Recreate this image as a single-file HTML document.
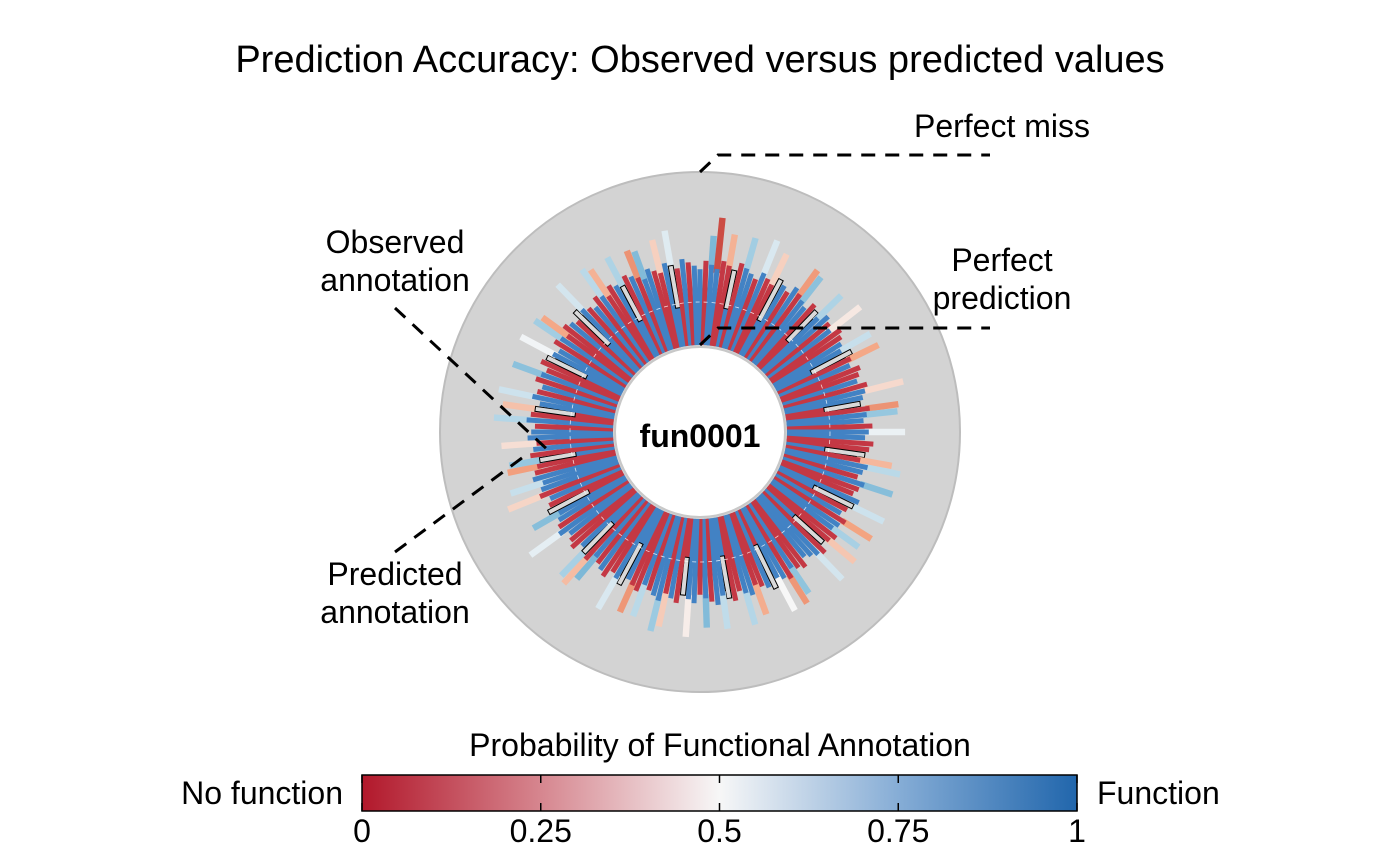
<!DOCTYPE html>
<html><head><meta charset="utf-8">
<style>
html,body{margin:0;padding:0;background:#fff;}
svg{display:block;font-family:"Liberation Sans",Arial,sans-serif;}
</style></head>
<body>
<svg id="chart" width="1400" height="865" viewBox="0 0 1400 865">
<defs>
<linearGradient id="cbgrad" x1="0" x2="1" y1="0" y2="0">
<stop offset="0" stop-color="#b2182b"/>
<stop offset="0.25" stop-color="#d6868f"/>
<stop offset="0.5" stop-color="#f7f7f7"/>
<stop offset="0.75" stop-color="#86add6"/>
<stop offset="1" stop-color="#2166ac"/>
</linearGradient>
</defs>
<text x="700" y="72" text-anchor="middle" font-size="38">Prediction Accuracy: Observed versus predicted values</text>
<circle cx="700" cy="432" r="260" fill="#d3d3d3" stroke="#bdbdbd" stroke-width="2"/>
<g id="bars"></g>
<circle cx="700" cy="432" r="130" fill="none" stroke="#fff" stroke-width="0.8" stroke-dasharray="4,4" opacity="0.8"/>
<circle cx="700" cy="432" r="85" fill="#fff" stroke="#c8c8c8" stroke-width="2"/>
<text x="700" y="447" text-anchor="middle" font-size="32" font-weight="bold">fun0001</text>

<polyline points="700,172 718,155 990,155" fill="none" stroke="#000" stroke-width="3" stroke-dasharray="14,10"/>
<text x="1002" y="137" text-anchor="middle" font-size="32">Perfect miss</text>
<polyline points="700,345 718,328 990,328" fill="none" stroke="#000" stroke-width="3" stroke-dasharray="14,10"/>
<text x="1002" y="271" text-anchor="middle" font-size="32">Perfect</text>
<text x="1002" y="309" text-anchor="middle" font-size="32">prediction</text>
<line x1="395" y1="308" x2="550" y2="452" stroke="#000" stroke-width="3" stroke-dasharray="14,10"/>
<text x="395" y="253" text-anchor="middle" font-size="32">Observed</text>
<text x="395" y="291" text-anchor="middle" font-size="32">annotation</text>
<line x1="395" y1="552" x2="530" y2="452" stroke="#000" stroke-width="3" stroke-dasharray="14,10"/>
<text x="395" y="585" text-anchor="middle" font-size="32">Predicted</text>
<text x="395" y="623" text-anchor="middle" font-size="32">annotation</text>

<text x="720" y="756" text-anchor="middle" font-size="32">Probability of Functional Annotation</text>
<rect x="362" y="775" width="715" height="36" fill="url(#cbgrad)" stroke="#000" stroke-width="1.5"/>
<text x="343" y="804" text-anchor="end" font-size="32">No function</text>
<text x="1097" y="804" font-size="32">Function</text>
<g id="cbticks"></g>
</svg>
<script>
const observed = [1,0,1,1,0,0,1,0,1,1,0,1,0,0,1,1,0,1,0,1,1,0,0,1,1,0,1,0,0,1,1,1,0,1,0,0,1,0,1,1,0,0,1,1,0,1,1,0,0,1,0,1,1,0,1,0,0,1,1,0,1,0,1,1,0,0,1,0,1,1,1,0,0,1,0,1,1,0,1,0,0,1,1,0,0,1,1,1,0,1,0,1,1,0,0,1,0,1,1,0,1,0,0,1,1,1,0,0,1,0,1,0,1,1,0,0,1,1,0,1,1,0,0,1,0,1,1,1,0,0,1,0,1,0,1,1,0,1,0,0,1,1,0,1,0,1,0,0,1,1,1,0,1,0,0,1,0,1,1,0,1,0,1,0,0,1,1,0,1,0,1,1,0,0,1,1,0,1,0,1];
const predicted = [0.82,0.21,0.71,0.12,0.15,0.36,0.88,0.09,0.64,0.91,0.18,0.55,0.11,0.42,0.86,0.77,0.08,0.93,0.31,0.68,0.84,0.14,0.26,0.62,0.9,0.05,0.47,0.19,0.12,0.79,0.58,0.92,0.34,0.73,0.1,0.22,0.87,0.15,0.44,0.81,0.07,0.29,0.66,0.89,0.16,0.52,0.83,0.2,0.11,0.74,0.37,0.6,0.94,0.13,0.69,0.24,0.06,0.85,0.57,0.17,0.78,0.33,0.9,0.63,0.12,0.4,0.8,0.09,0.56,0.88,0.72,0.23,0.14,0.67,0.3,0.92,0.5,0.18,0.83,0.07,0.35,0.76,0.61,0.1,0.27,0.86,0.59,0.9,0.13,0.7,0.21,0.82,0.48,0.16,0.08,0.78,0.41,0.65,0.93,0.19,0.6,0.12,0.3,0.89,0.74,0.55,0.09,0.25,0.84,0.15,0.71,0.38,0.63,0.91,0.2,0.06,0.8,0.53,0.17,0.87,0.69,0.28,0.11,0.75,0.43,0.9,0.58,0.82,0.14,0.32,0.66,0.1,0.86,0.45,0.72,0.94,0.22,0.61,0.13,0.39,0.85,0.57,0.08,0.77,0.26,0.68,0.18,0.12,0.88,0.51,0.83,0.2,0.64,0.34,0.07,0.79,0.15,0.92,0.56,0.24,0.73,0.11,0.6,0.36,0.09,0.87,0.62,0.19,0.81,0.29,0.7,0.9,0.13,0.42,0.84,0.54,0.16,0.76,0.27,0.93];
const missing = [6,14,22,31,40,49,58,66,77,85,93,104,112,121,130,139,148,157,166,175];
const cbTickValues = [0,0.25,0.5,0.75,1];
const cbTickLabels = ["0","0.25","0.5","0.75","1"];

const NS="http://www.w3.org/2000/svg";
const cx=700, cy=432, r0=87, rMid=130, rObs=175, rMax=260;
const pal=[[178,24,43],[214,96,77],[244,165,130],[247,247,247],[146,197,222],[67,147,195],[33,102,172]];
function colorOf(p){
  const t=Math.max(0,Math.min(1,p))*(pal.length-1);
  const i=Math.min(pal.length-2,Math.floor(t)), f=t-i;
  const c=pal[i].map((v,k)=>Math.round(v+(pal[i+1][k]-v)*f));
  return `rgb(${c[0]},${c[1]},${c[2]})`;
}
function rad(r,a){return [cx+r*Math.sin(a), cy-r*Math.cos(a)];}
const g=document.getElementById('bars');
const N=observed.length, step=2*Math.PI/N;
function wedge(a,ra,rb,fill,stroke,name,halfW){
  const px=Math.cos(a)*halfW, py=Math.sin(a)*halfW;
  const A=rad(ra,a), B=rad(rb,a);
  const pts=[[A[0]-px,A[1]-py],[B[0]-px,B[1]-py],[B[0]+px,B[1]+py],[A[0]+px,A[1]+py]];
  const el=document.createElementNS(NS,'polygon');
  el.setAttribute('points',pts.map(p=>p[0].toFixed(1)+','+p[1].toFixed(1)).join(' '));
  el.setAttribute('fill',fill);
  if(stroke){el.setAttribute('stroke',stroke);el.setAttribute('stroke-width','1');}
  
  
  g.appendChild(el);
}
const RED='rgb(196,56,68)', BLUE='rgb(66,130,196)';
for(let i=0;i<N;i++){
  const a=i*step, o=observed[i], p=predicted[i];
  const err=Math.abs(p-o);
  const len=(rObs-r0)*(0.86+0.14*((i*37)%10)/10);
  const base=o? BLUE:RED;
  if(err>0.28){
    const extra=18+38*err;
    wedge(a,r0+len-4,r0+len+extra,colorOf(p),null,'predicted-bar',3.2);
  }
  if(missing.includes(i)){
    wedge(a,r0,rMid-4,p>0.5?BLUE:RED,null,'observed-bar',2.5);
    wedge(a,rMid-4,r0+len,'#d9d9d9','#000','missing-observation-bar',2.5);
  } else {
    wedge(a,r0,r0+len,base,null,'observed-bar',2.5);
  }
}
const tg=document.getElementById('cbticks');
cbTickValues.forEach((v,k)=>{
  const x=362+715*v;
  [[775,783],[803,811]].forEach(([y1,y2])=>{
    const l=document.createElementNS(NS,'line');
    l.setAttribute('x1',x);l.setAttribute('x2',x);l.setAttribute('y1',y1);l.setAttribute('y2',y2);
    l.setAttribute('stroke','#000');l.setAttribute('stroke-width','1.5');
    
    
    tg.appendChild(l);
  });
  const t=document.createElementNS(NS,'text');
  t.setAttribute('x',x);t.setAttribute('y',842);t.setAttribute('text-anchor','middle');t.setAttribute('font-size','32');
  t.textContent=cbTickLabels[k];
  
  
  tg.appendChild(t);
});
</script>
</body></html>
